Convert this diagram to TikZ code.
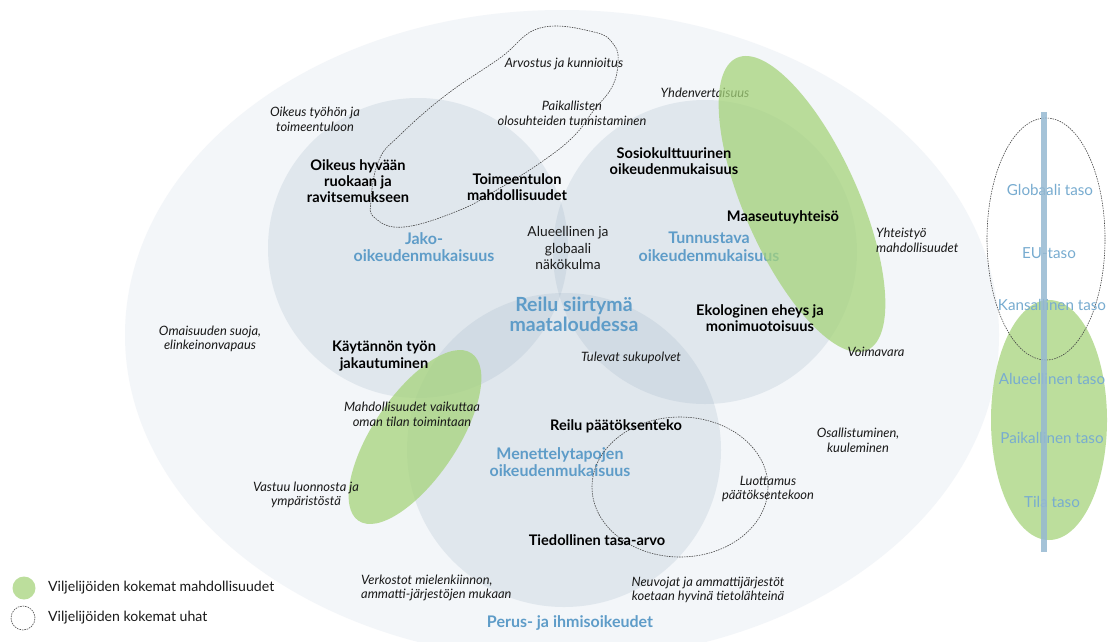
\documentclass[tikz,border=0pt]{standalone}
\usepackage{fontspec}
\setmainfont{Lato}
\definecolor{bgell}{RGB}{243,246,249}
\definecolor{circ}{RGB}{150,172,192}
\definecolor{grn}{RGB}{166,212,123}
\definecolor{lblue}{RGB}{94,156,200}
\definecolor{lvblue}{RGB}{120,172,208}
\definecolor{barblue}{RGB}{150,185,210}
\definecolor{dashc}{RGB}{70,70,70}
\definecolor{txt}{RGB}{25,25,25}
\tikzset{
 circlefill/.style={fill=circ, fill opacity=0.2},
 greenfill/.style={fill=grn, fill opacity=0.75},
 threat/.style={draw=dashc, line width=0.6pt, dash pattern=on 1.5pt off 1pt},
 boldlbl/.style={font=\fontsize{14.6}{16.2}\selectfont\bfseries, align=center, text=black, inner sep=0pt},
 itlbl/.style={font=\fontsize{12.9}{14.6}\selectfont\itshape, align=center, text=txt, inner sep=0pt},
 reglbl/.style={font=\fontsize{13.8}{16.5}\selectfont, align=center, text=txt, inner sep=0pt},
 bluelbl/.style={font=\fontsize{16}{17.5}\selectfont\bfseries, align=center, text=lblue, inner sep=0pt},
 levellbl/.style={font=\fontsize{15.2}{16}\selectfont, text=lvblue, inner sep=0pt},
 legendlbl/.style={font=\fontsize{14.1}{16}\selectfont, anchor=west, text=txt, inner sep=0pt},
}
\begin{document}
\begin{tikzpicture}[x=1pt,y=-1pt]
\useasboundingbox (0,0) rectangle (1108,641);
\clip (0,0) rectangle (1108,641);
\fill[white] (0,0) rectangle (1108,641);
% outer ellipse
\fill[bgell] (562,335) ellipse[x radius=437pt, y radius=325pt];
% three circles
\fill[circlefill] (418,248) circle[radius=150pt];
\fill[circlefill] (705,252) circle[radius=152pt];
\fill[circlefill] (564,450) circle[radius=157pt];
% labels beneath green
\node[itlbl] (yhden) at (705,93) {Yhdenvertaisuus};
\node[bluelbl] (jako) at (424,247) {Jako-\\oikeudenmukaisuus};
\node[bluelbl] (tunn) at (709,247) {Tunnustava\\oikeudenmukaisuus};
\node[bluelbl] (men) at (560,462) {Menettelytapojen\\oikeudenmukaisuus};
\node[bluelbl] (perus) at (570,623) {Perus- ja ihmisoikeudet};
\node[font=\fontsize{19.5}{20}\selectfont\bfseries, align=center, text=lblue, inner sep=0pt] (reilu) at (574,314) {Reilu siirtymä\\maataloudessa};
% green ellipses (opportunities)
\fill[greenfill, rotate around={-66:(802,204)}] (802,204) ellipse[x radius=160pt, y radius=57pt];
\fill[greenfill, rotate around={56:(415,437)}] (415,437) ellipse[x radius=101pt, y radius=42pt];
\fill[greenfill] (1049,420) ellipse[x radius=58pt, y radius=120pt];
% dashed shapes (threats)
\draw[threat] plot[smooth cycle, tension=0.7] coordinates {(540,28) (594,32) (614,45) (618,63) (612,87) (594,110) (573,137) (540,163) (500,188) (460,210) (404,227) (375,218) (371,200) (379,160) (400,135) (446,95) (500,58)};
\draw[threat] (680,487) ellipse[x radius=88pt, y radius=70pt];
\draw[threat] (1046,239) ellipse[x radius=59pt, y radius=121pt];
% bold labels
\node[boldlbl] (ruoka) at (358,181) {Oikeus hyvään\\ruokaan ja\\ravitsemukseen};
\node[boldlbl] (toim) at (517,187) {Toimeentulon\\mahdollisuudet};
\node[boldlbl] (sosio) at (674,161) {Sosiokulttuurinen\\oikeudenmukaisuus};
\node[boldlbl] (maas) at (783,217) {Maaseutuyhteisö};
\node[boldlbl] (eko) at (760,318) {Ekologinen eheys ja\\monimuotoisuus};
\node[boldlbl] (kayt) at (384,356) {Käytännön työn\\jakautuminen};
\node[boldlbl] (paat) at (616,426) {Reilu päätöksenteko};
\node[boldlbl] (tied) at (597,540) {Tiedollinen tasa-arvo};
% italic labels
\node[itlbl] (tyo) at (315,119) {Oikeus työhön ja\\toimeentuloon};
\node[itlbl] (arvo) at (564,64) {Arvostus ja kunnioitus};
\node[itlbl] (paik) at (572,113) {Paikallisten\\olosuhteiden tunnistaminen};
\node[itlbl, align=left, anchor=west] (yht) at (876,240) {Yhteistyö\\mahdollisuudet};
\node[reglbl] (alue) at (568,248) {Alueellinen ja\\globaali\\näkökulma};
\node[itlbl] (omai) at (210,339) {Omaisuuden suoja,\\elinkeinonvapaus};
\node[itlbl] (tule) at (631,358) {Tulevat sukupolvet};
\node[itlbl] (voima) at (876,352) {Voimavara};
\node[itlbl] (vaik) at (412,414) {Mahdollisuudet vaikuttaa\\oman tilan toimintaan};
\node[itlbl] (vast) at (306,495) {Vastuu luonnosta ja\\ympäristöstä};
\node[itlbl] (osal) at (858,440) {Osallistuminen,\\kuuleminen};
\node[itlbl] (luot) at (768,489) {Luottamus\\päätöksentekoon};
\node[itlbl, align=left, anchor=west] (verk) at (361,588) {Verkostot mielenkiinnon,\\ammatti-järjestöjen mukaan};
\node[itlbl] (neuv) at (708,590) {Neuvojat ja ammattijärjestöt\\koetaan hyvinä tietolähteinä};
% levels
\node[levellbl] (glob) at (1050,190) {Globaali taso};
\node[levellbl] (eu) at (1049,253) {EU-taso};
\node[levellbl] (kans) at (1052,305) {Kansallinen taso};
\node[levellbl] (aluet) at (1052,379) {Alueellinen taso};
\node[levellbl] (paikt) at (1052,438) {Paikallinen taso};
\node[levellbl] (tila) at (1052,502) {Tila taso};
\coordinate (bartop) at (1044,112);
\coordinate (barbot) at (1044,552);
\draw[barblue, line width=6pt, opacity=0.85] (bartop) -- (barbot);
% legend
\fill[greenfill] (24,588) circle[radius=11.5pt];
\draw[threat] (23,618) circle[radius=12pt];
\node[legendlbl] (leg1) at (48,588) {Viljelijöiden kokemat mahdollisuudet};
\node[legendlbl] (leg2) at (48,618) {Viljelijöiden kokemat uhat};
\end{tikzpicture}
\end{document}
